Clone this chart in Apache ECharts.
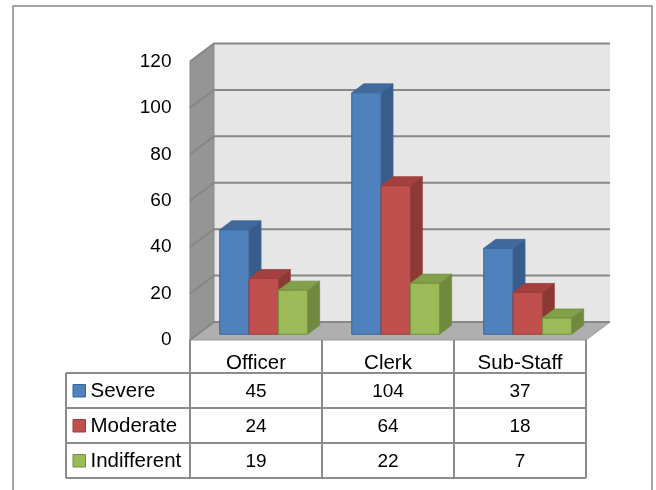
<!DOCTYPE html>
<html><head><meta charset="utf-8">
<script src="https://cdn.jsdelivr.net/npm/echarts@6/dist/echarts.min.js"></script>
<style>html,body{margin:0;padding:0;background:#fff}#c{width:656px;height:490px}</style>
</head><body><div id="c"></div>
<script>
const categories = ['Officer', 'Clerk', 'Sub-Staff'];
const seriesNames = ['Severe', 'Moderate', 'Indifferent'];
const severe = [45, 104, 37];
const moderate = [24, 64, 18];
const indifferent = [19, 22, 7];
const yTicks = [0, 20, 40, 60, 80, 100, 120];

const FONT = 'Liberation Sans';
const FS = 19;
const FS_WORD = 20.5;
const DEPTH = [24, -18];
const F1 = 0.32, F2 = 0.82;
const HEADER_H = 33, ROW_H = 35, LEGEND_W = 124;
const palette = [
  {front: '#4F81BD', side: '#385D8A', top: '#41699C', line: '#3A6699'},
  {front: '#C0504D', side: '#8C3835', top: '#A4413F', line: '#9A3E3B'},
  {front: '#9BBB59', side: '#71893F', top: '#82A047', line: '#748F42'}
];

const chart = echarts.init(document.getElementById('c'), null, {renderer: 'canvas'});

function renderWalls(params, api) {
  const cs = params.coordSys;
  const X0 = cs.x, X1 = cs.x + cs.width;
  const dx = DEPTH[0], dy = DEPTH[1];
  const yMax = api.coord([0, yTicks[yTicks.length - 1]])[1];
  const y0 = api.coord([0, 0])[1];
  const ch = [];
  ch.push({type: 'polygon', shape: {points: [[X0 + dx, yMax + dy], [X1 + dx, yMax + dy], [X1 + dx, y0 + dy], [X0 + dx, y0 + dy]]},
    style: {fill: '#E6E6E6'}});
  ch.push({type: 'polygon', shape: {points: [[X0, yMax], [X0 + dx, yMax + dy], [X0 + dx, y0 + dy], [X0, y0]]},
    style: {fill: '#959595', stroke: '#8A8A8A', lineWidth: 1}});
  ch.push({type: 'polygon', shape: {points: [[X0, y0], [X1, y0], [X1 + dx, y0 + dy], [X0 + dx, y0 + dy]]},
    style: {fill: '#AFAFAF', stroke: '#9A9A9A', lineWidth: 1}});
  yTicks.forEach(function (v) {
    const y = api.coord([0, v])[1];
    ch.push({type: 'polyline', shape: {points: [[X0, y], [X0 + dx, y + dy], [X1 + dx, y + dy]]},
      style: {stroke: '#878787', lineWidth: 2, fill: null}});
  });
  return {type: 'group', children: ch};
}

function makeBarRender(s) {
  return function (params, api) {
    const i = api.value(0), v = api.value(1);
    const base = api.coord([i, 0]);
    const topP = api.coord([i, v]);
    const band = api.size([1, 0])[0];
    const bw = band * 0.222;
    const dx = DEPTH[0], dy = DEPTH[1];
    const x = base[0] - 1.5 * bw + s * bw + F1 * dx;
    const yb = base[1] + F1 * dy, yt = topP[1] + F1 * dy;
    const ddx = (F2 - F1) * dx, ddy = (F2 - F1) * dy;
    const c = palette[s];
    return {type: 'group', children: [
      {type: 'polygon', shape: {points: [[x + bw, yt], [x + bw + ddx, yt + ddy], [x + bw + ddx, yb + ddy], [x + bw, yb]]},
        style: {fill: c.side, stroke: c.line, lineWidth: 0.8}},
      {type: 'polygon', shape: {points: [[x, yt], [x + ddx, yt + ddy], [x + bw + ddx, yt + ddy], [x + bw, yt]]},
        style: {fill: c.top, stroke: c.line, lineWidth: 0.8}},
      {type: 'rect', shape: {x: x, y: yt, width: bw, height: yb - yt},
        style: {fill: c.front, stroke: c.line, lineWidth: 1}}
    ]};
  };
}

function txt(t, x, y, align, size) {
  return {type: 'text', style: {text: String(t), x: x, y: y, align: align, verticalAlign: 'middle',
    fontSize: size, fontFamily: FONT, fill: '#000'}};
}
function ln(x1, y1, x2, y2) {
  return {type: 'line', shape: {x1: x1, y1: y1, x2: x2, y2: y2}, style: {stroke: '#8C8C8C', lineWidth: 2}};
}

function renderTable(params, api) {
  const cs = params.coordSys;
  const i = api.value(0);
  const cx = api.coord([i, 0])[0];
  const band = api.size([1, 0])[0];
  const L = cx - band / 2, R = cx + band / 2;
  const yTop = cs.y + cs.height;
  const rowsTop = yTop + HEADER_H;
  const yBot = rowsTop + 3 * ROW_H;
  const ch = [];
  ch.push(ln(L, yTop, L, yBot));
  ch.push(ln(R, yTop, R, yBot));
  for (let r = 0; r <= 3; r++) ch.push(ln(L, rowsTop + r * ROW_H, R, rowsTop + r * ROW_H));
  for (let r = 0; r < 3; r++) ch.push(txt(api.value(r + 1), cx, rowsTop + (r + 0.5) * ROW_H + 1, 'center', FS));
  if (i === 0) {
    const LL = L - LEGEND_W;
    ch.push(ln(LL, rowsTop, LL, yBot));
    for (let r = 0; r <= 3; r++) ch.push(ln(LL, rowsTop + r * ROW_H, L, rowsTop + r * ROW_H));
    for (let r = 0; r < 3; r++) {
      const yc = rowsTop + (r + 0.5) * ROW_H;
      ch.push({type: 'rect', shape: {x: LL + 7, y: yc - 6, width: 12.5, height: 12.5},
        style: {fill: palette[r].front, stroke: palette[r].line, lineWidth: 1}});
      ch.push(txt(seriesNames[r], LL + 24.5, yc + 1, 'left', FS_WORD));
    }
  }
  return {type: 'group', children: ch};
}

const barData = [severe, moderate, indifferent];

chart.setOption({
  backgroundColor: '#fff',
  animation: false,
  graphic: [{type: 'rect', shape: {x: 13, y: 6, width: 639, height: 500},
    style: {fill: 'none', stroke: '#888888', lineWidth: 1.5}, z: 0}],
  grid: {left: 190, right: 70, top: 61.5, bottom: 150, containLabel: false},
  xAxis: {type: 'category', data: categories,
    axisLine: {show: false}, axisTick: {show: false}, splitLine: {show: false},
    axisLabel: {margin: 23, verticalAlign: 'middle', fontSize: FS_WORD, fontFamily: FONT, color: '#000'}},
  yAxis: {type: 'value', min: 0, max: 120, interval: 20,
    axisLine: {show: false}, axisTick: {show: false}, splitLine: {show: false},
    axisLabel: {margin: 18.5, fontSize: FS, fontFamily: FONT, color: '#000'}},
  series: [
    {type: 'custom', name: 'walls', z: 1, renderItem: renderWalls, data: [[0, 0]], silent: true}
  ].concat(barData.map(function (arr, s) {
    return {type: 'custom', name: seriesNames[s], z: 2, renderItem: makeBarRender(s),
      data: arr.map(function (v, i) { return [i, v]; })};
  })).concat([
    {type: 'custom', name: 'table', z: 3, renderItem: renderTable, silent: true,
      data: categories.map(function (c, i) { return [i, severe[i], moderate[i], indifferent[i]]; })}
  ])
});
</script></body></html>
